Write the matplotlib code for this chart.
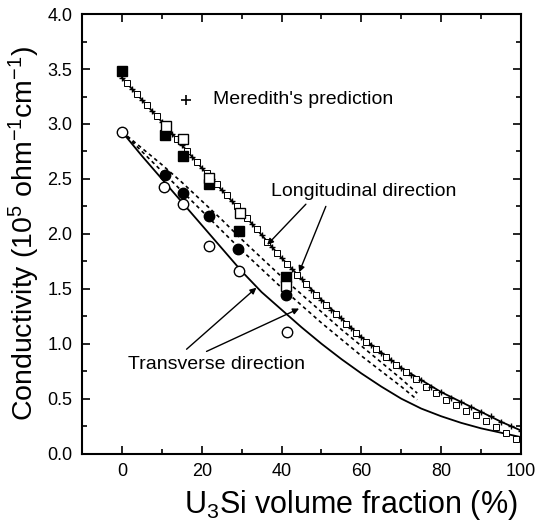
import matplotlib
matplotlib.use('Agg')
import matplotlib.pyplot as plt
from matplotlib.ticker import MultipleLocator

plt.rcParams['font.family'] = ['Liberation Sans', 'DejaVu Sans']
plt.rcParams['mathtext.default'] = 'regular'

# measured data (U3Si vol.%, conductivity 1e5 ohm^-1 cm^-1)
x_meas = [0, 10.7, 15.2, 21.8, 29.3, 41.2]
long_filled = [3.48, 2.90, 2.71, 2.45, 2.03, 1.61]
x_long_open = [11.0, 15.4, 21.8, 29.5, 41.2]
long_open = [2.98, 2.86, 2.51, 2.19, 1.53]
x_trans_filled = [10.7, 15.2, 21.9, 29.0, 41.2]
trans_filled = [2.54, 2.37, 2.16, 1.86, 1.44]
x_trans_open = [0, 10.5, 15.2, 21.7, 29.3, 41.3]
trans_open = [2.93, 2.43, 2.27, 1.89, 1.66, 1.11]

# Meredith's prediction (+)
x_mer = [0, 2.5, 5, 7.5, 10, 12.5, 15, 17.5, 20, 22.5, 25, 27.5, 30, 32.5, 35, 37.5,
         40, 42.5, 45, 47.5, 50, 52.5, 55, 57.5, 60, 62.5, 65, 67.5, 70, 72.5, 75,
         77.5, 80, 82.5, 85, 87.5, 90, 92.5, 95, 97.5, 100]
y_mer = [3.42, 3.32, 3.22, 3.12, 3.02, 2.91, 2.81, 2.70, 2.60, 2.50, 2.40, 2.30, 2.20,
         2.09, 1.99, 1.88, 1.78, 1.68, 1.59, 1.49, 1.40, 1.31, 1.23, 1.14, 1.06, 0.99,
         0.92, 0.85, 0.78, 0.72, 0.67, 0.61, 0.56, 0.51, 0.47, 0.42, 0.38, 0.34, 0.29,
         0.25, 0.21]

# second prediction curve (small open squares)
x_sq = [1.25, 3.75, 6.25, 8.75, 11.25, 13.75, 16.25, 18.75, 21.25, 23.75, 26.25, 28.75,
        31.25, 33.75, 36.25, 38.75, 41.25, 43.75, 46.25, 48.75, 51.25, 53.75, 56.25,
        58.75, 61.25, 63.75, 66.25, 68.75, 71.25, 73.75, 76.25, 78.75, 81.25, 83.75,
        86.25, 88.75, 91.25, 93.75, 96.25, 98.75]
y_sq = [3.37, 3.27, 3.17, 3.07, 2.96, 2.86, 2.75, 2.65, 2.55, 2.45, 2.35, 2.25, 2.14,
        2.04, 1.93, 1.83, 1.73, 1.63, 1.54, 1.44, 1.35, 1.27, 1.18, 1.10, 1.02, 0.95,
        0.88, 0.81, 0.74, 0.68, 0.61, 0.55, 0.49, 0.44, 0.39, 0.35, 0.30, 0.24, 0.19,
        0.13]

# fitted curves
x_fit = [0, 5, 10, 15, 20, 25, 30, 35, 40, 45, 50, 55, 60, 65, 70, 75, 80, 85, 90, 95, 100]
long_fit = [3.42, 3.22, 3.02, 2.81, 2.60, 2.40, 2.20, 1.99, 1.78, 1.59, 1.40, 1.23, 1.06,
            0.92, 0.78, 0.67, 0.56, 0.47, 0.38, 0.29, 0.21]
trans_fit = [2.93, 2.71, 2.50, 2.29, 2.08, 1.87, 1.66, 1.47, 1.31, 1.15, 1.00, 0.86, 0.73,
             0.61, 0.50, 0.41, 0.34, 0.28, 0.23, 0.19, 0.15]

x_dash = [0, 5, 10, 15, 20, 25, 30, 35, 40, 45, 50, 55, 60, 65, 70, 74]
dash_upper = [2.93, 2.78, 2.63, 2.47, 2.30, 2.13, 1.95, 1.78, 1.61, 1.45, 1.29, 1.13,
              0.98, 0.83, 0.68, 0.55]
dash_lower = [2.93, 2.75, 2.57, 2.39, 2.21, 2.03, 1.85, 1.68, 1.51, 1.35, 1.19, 1.04,
              0.89, 0.75, 0.61, 0.49]

fig = plt.figure(figsize=(5.36, 5.22), dpi=100)
ax = fig.add_axes([0.153, 0.131, 0.819, 0.842])

ax.plot(x_fit, long_fit, '-', color='black', lw=1.3)
ax.plot(x_fit, trans_fit, '-', color='black', lw=1.3)
ax.plot(x_dash, dash_upper, color='black', lw=1.2, linestyle=(0, (2.2, 2)))
ax.plot(x_dash, dash_lower, color='black', lw=1.2, linestyle=(0, (2.2, 2)))
ax.plot(x_sq, y_sq, 's', ms=3.8, mfc='white', mec='black', mew=0.7)
ax.plot(x_mer, y_mer, '+', ms=5, color='black', mew=1.0)

ax.plot(x_meas, long_filled, 's', ms=7.5, color='black')
ax.plot(x_long_open, long_open, 's', ms=7.5, mfc='white', mec='black', mew=1.0)
ax.plot(x_trans_filled, trans_filled, 'o', ms=7.5, color='black')
ax.plot(x_trans_open, trans_open, 'o', ms=7.5, mfc='white', mec='black', mew=1.0)

# labels and arrows
ax.plot([16], [3.22], '+', ms=7, color='black', mew=1.2)
ax.text(22.7, 3.22, "Meredith's prediction", fontsize=14, va='center', ha='left')
ax.text(37.4, 2.39, 'Longitudinal direction', fontsize=14, va='center', ha='left')
ax.text(1.5, 0.81, 'Transverse direction', fontsize=14, va='center', ha='left')

arrow = dict(arrowstyle='-|>', color='black', lw=1.0, mutation_scale=9, shrinkA=0, shrinkB=0)
ax.annotate('', xy=(36.4, 1.90), xytext=(46.1, 2.27), arrowprops=arrow)
ax.annotate('', xy=(44.4, 1.65), xytext=(51.1, 2.25), arrowprops=arrow)
ax.annotate('', xy=(33.7, 1.51), xytext=(16.2, 0.95), arrowprops=arrow)
ax.annotate('', xy=(44.4, 1.32), xytext=(21.2, 0.93), arrowprops=arrow)

ax.set_xlim(-10, 100)
ax.set_ylim(0, 4.0)
ax.xaxis.set_major_locator(MultipleLocator(20))
ax.xaxis.set_minor_locator(MultipleLocator(10))
ax.yaxis.set_major_locator(MultipleLocator(0.5))
ax.yaxis.set_minor_locator(MultipleLocator(0.25))
ax.yaxis.set_major_formatter(plt.FormatStrFormatter('%.1f'))
ax.tick_params(which='both', direction='in', top=True, right=True, labelsize=13, width=1.2)
ax.tick_params(which='major', length=6, pad=7)
ax.tick_params(which='minor', length=3.5)
for s in ax.spines.values():
    s.set_linewidth(1.5)

ax.set_xlabel(r'U$_3$Si volume fraction (%)', fontsize=22)
ax.xaxis.set_label_coords(0.612, -0.078)
ax.set_ylabel(r'Conductivity (10$^5$ ohm$^{-1}$cm$^{-1}$)', fontsize=20.5)
ax.yaxis.set_label_coords(-0.092, 0.5)

fig.savefig('out.png', dpi=100)
